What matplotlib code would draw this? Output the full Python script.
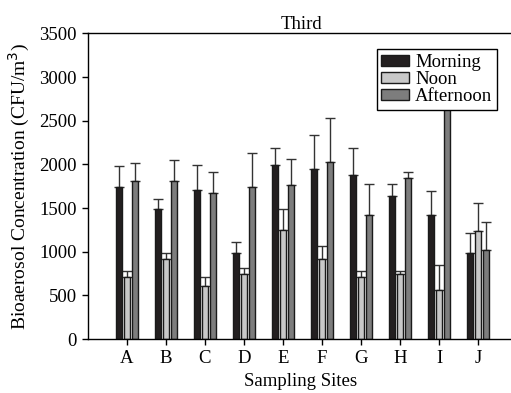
import matplotlib.pyplot as plt
import numpy as np

plt.rcParams['font.family'] = ['Liberation Serif', 'DejaVu Serif']
plt.rcParams['font.size'] = 13.5

# Sampling sites and mean concentrations (CFU/m3) with upper error
sites = ['A', 'B', 'C', 'D', 'E', 'F', 'G', 'H', 'I', 'J']
morning = [1740, 1490, 1705, 990, 1990, 1950, 1880, 1635, 1420, 990]
morning_err = [245, 120, 290, 120, 200, 390, 310, 140, 280, 225]
noon = [710, 920, 610, 745, 1245, 920, 710, 745, 565, 1235]
noon_err = [70, 70, 100, 75, 240, 145, 75, 30, 285, 325]
afternoon = [1810, 1810, 1670, 1740, 1770, 2025, 1420, 1845, 2800, 1020]
afternoon_err = [205, 245, 240, 390, 290, 510, 355, 70, 300, 325]

fig = plt.figure(figsize=(5.11, 3.93), dpi=100)
ax = fig.add_axes([0.172, 0.137, 0.834, 0.778])

x = np.arange(len(sites))
width = 0.16
series = [
    ('Morning', morning, morning_err, '#231f20', -0.2),
    ('Noon', noon, noon_err, '#c8c8c8', 0.0),
    ('Afternoon', afternoon, afternoon_err, '#7d7d7d', 0.21),
]

for label, vals, err, color, off in series:
    vals = np.array(vals)
    err = np.array(err)
    ax.bar(x + off, vals, width, color=color, edgecolor='#1a1a1a',
           linewidth=1.0, label=label, zorder=2)
    # only the upper half of each error bar is drawn
    ax.errorbar(x + off, vals, yerr=[np.zeros_like(err), err], fmt='none',
                ecolor='#333333', elinewidth=1.0, capsize=3.3, capthick=1.0,
                zorder=1)

ax.set_xlim(-1, 9.92)
ax.set_ylim(0, 3500)
ax.set_yticks(np.arange(0, 3501, 500))
ax.set_xticks(x)
ax.set_xticklabels(sites)
ax.tick_params(direction='out', length=4, width=1, pad=4, labelsize=13.5)
ax.spines['right'].set_visible(False)
for s in ['left', 'top', 'bottom']:
    ax.spines[s].set_linewidth(1.0)

ax.set_title('Third', fontsize=13.5, pad=2)
ax.set_xlabel('Sampling Sites', fontsize=13.5, labelpad=4)
ax.set_ylabel('Bioaerosol Concentration (CFU/m$^3$)', fontsize=14,
              labelpad=5)

leg = ax.legend(loc='upper right', bbox_to_anchor=(0.96, 0.948),
                fancybox=False, framealpha=1, edgecolor='black',
                fontsize=13.5, handlelength=1.5, handleheight=0.5,
                labelspacing=0.0, handletextpad=0.3, borderpad=0.25,
                borderaxespad=0)
leg.get_frame().set_linewidth(1.0)
leg.set_zorder(5)

fig.savefig('out.png', dpi=100)
